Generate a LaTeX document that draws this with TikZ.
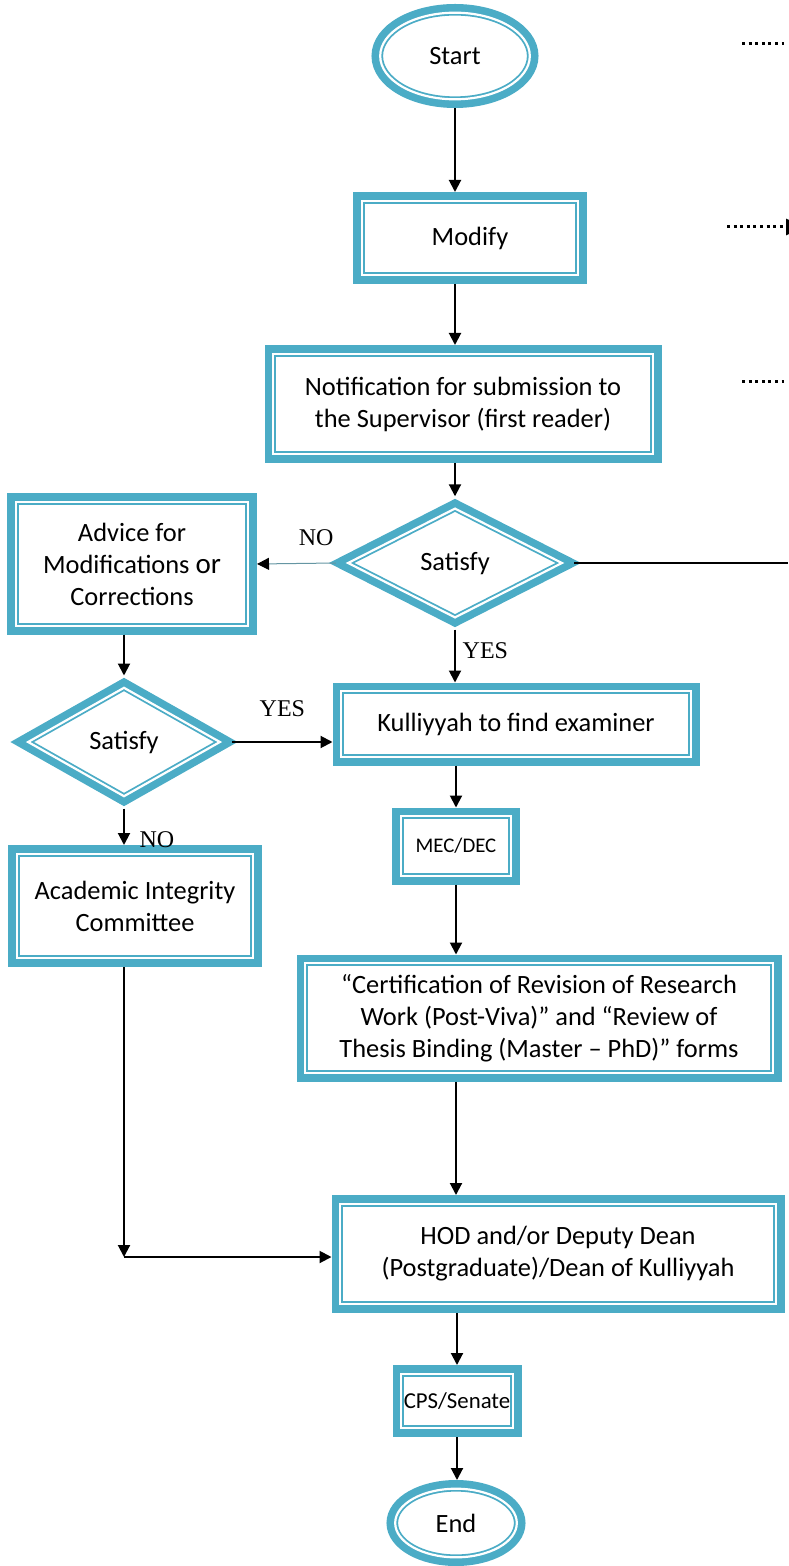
\documentclass[tikz,border=0pt]{standalone}
\usepackage{fontspec}
\usepackage{tikz}
\usetikzlibrary{shapes.geometric,arrows.meta}
\newfontfamily\boxfont{Carlito}
\newfontfamily\answerfont{Liberation Serif}
\definecolor{boxblue}{RGB}{75,172,198}

\begin{document}
\begin{tikzpicture}[
        x=0.5pt, y=-0.5pt,
        every node/.append style={black},
        doubleframe/.style={
            draw=boxblue, line width=0.9pt, double=white, double distance=1.1pt,
            fill=white, outer sep=4.35pt, inner sep=0pt,
            preaction={draw=boxblue, line width=8.7pt},
            font=\boxfont\fontsize{13.2}{16}\selectfont, align=center
        },
        procbox/.style={doubleframe, rectangle},
        termbox/.style={doubleframe, ellipse},
        testbox/.style={doubleframe, diamond, shape aspect=2},
        flow/.style={-{Triangle[length=6pt,width=6pt]}, line width=1pt},
        answer/.style={font=\answerfont\fontsize{12}{14}\selectfont},
        farlink/.style={line width=1.5pt, dash pattern=on 1.5pt off 1.8pt}
    ]
    \useasboundingbox (0,0) rectangle (788,1566);

    \node[termbox, minimum width=74.8pt, minimum height=43.3pt] (start) at (455,56) {Start};
    \node[procbox, minimum width=108.3pt, minimum height=37.3pt] (modify) at (470,238) {Modify};
    \node[procbox, minimum width=189.8pt, minimum height=50.3pt] (notify) at (463,404)
        {Notification for submission to\\the Supervisor (first reader)};
    \node[testbox, minimum width=110.5pt, minimum height=58pt] (satA) at (455,563) {Satisfy};
    \node[procbox, minimum width=116.3pt, minimum height=61.8pt] (advice) at (132,564)
        {Advice for\\Modifications {\fontsize{14.5}{16}\selectfont or}\\Corrections};
    \node[testbox, minimum width=99.5pt, minimum height=57.8pt] (satB) at (124,742) {Satisfy};
    \node[procbox, minimum width=174.8pt, minimum height=32.8pt] (examiner) at (516,724)
        {Kulliyyah to find examiner};
    \node[procbox, minimum width=118.3pt, minimum height=52.3pt] (integrity) at (135,906)
        {Academic Integrity\\Committee};
    \node[procbox, minimum width=55.3pt, minimum height=29.8pt,
        font=\boxfont\fontsize{10.4}{13}\selectfont] (mec) at (456,846) {MEC/DEC};
    \node[procbox, minimum width=233.8pt, minimum height=54.8pt] (forms) at (539,1018)
        {“Certification of Revision of Research\\Work (Post-Viva)” and “Review of\\Thesis Binding (Master – PhD)” forms};
    \node[procbox, minimum width=217.8pt, minimum height=50.3pt] (hod) at (558,1254)
        {HOD and/or Deputy Dean\\(Postgraduate)/Dean of Kulliyyah};
    \node[procbox, minimum width=55.8pt, minimum height=27.3pt,
        font=\boxfont\fontsize{11.4}{14}\selectfont] (senate) at (457,1401) {CPS/Senate};
    \node[termbox, minimum width=60.8pt, minimum height=34.3pt] (end) at (456,1523) {End};

    \coordinate (join) at (124,1257);
    \coordinate (edgeA) at (788,563);
    \coordinate (dotA) at (742,44);
    \coordinate (dotAend) at (784,44);
    \coordinate (dotB) at (727,227);
    \coordinate (dotBend) at (804,227);
    \coordinate (dotC) at (742,382);
    \coordinate (dotCend) at (784,382);

    \draw[flow] (start.south) -- (start.south |- modify.north);
    \draw[flow] (modify.south -| start) -- (notify.north -| start);
    \draw[flow] (notify.south -| satA) -- (satA.north);
    \draw[flow] (satA.south) -- node[answer, right, pos=0.4] {YES} (satA.south |- examiner.north);
    \draw[-{Triangle[length=6pt,width=6pt,color=black]}, draw=boxblue!50!gray, line width=0.5pt]
        (satA.west) -- node[answer, above=5pt, pos=0.25] {NO} (advice.east);
    \draw[line width=1pt] (satA.east) -- (edgeA);
    \draw[flow] (advice.south -| satB) -- (satB.north);
    \draw[flow] (satB.east) -- node[answer, above=9pt] {YES} (satB.east -| examiner.west);
    \draw[flow] (satB.south) -- node[answer, right=4pt, pos=0.85] {NO} (satB.south |- integrity.north);
    \draw[flow] (integrity.south -| satB) -- (join);
    \draw[flow] (join) -- (join -| hod.west);
    \draw[flow] (examiner.south -| mec) -- (mec.north);
    \draw[flow] (mec.south) -- (mec.south |- forms.north);
    \draw[flow] (forms.south -| mec) -- (hod.north -| mec);
    \draw[flow] (hod.south -| senate) -- (senate.north);
    \draw[flow] (senate.south) -- (senate.south |- end.north);

    \draw[farlink] (dotA) -- (dotAend);
    \draw[farlink, -{Triangle[length=9pt,width=8pt]}] (dotB) -- (dotBend);
    \draw[farlink] (dotC) -- (dotCend);
\end{tikzpicture}
\end{document}
